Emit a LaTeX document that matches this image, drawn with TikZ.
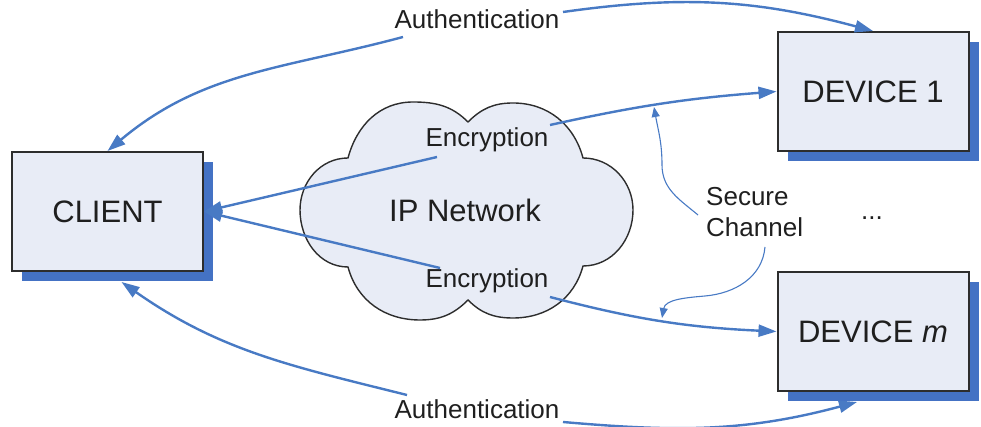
\documentclass[tikz,border=0pt]{standalone}
\usepackage{fontspec}
\setmainfont{Liberation Sans}
\usetikzlibrary{arrows.meta,shadows}
\definecolor{boxfill}{RGB}{232,236,246}
\definecolor{shadowblue}{RGB}{68,114,196}
\definecolor{linkblue}{RGB}{72,122,196}
\definecolor{edgegray}{RGB}{45,45,45}
\newcommand\labelbig{\fontsize{31}{37}\selectfont}
\newcommand\labelsmall{\fontsize{26}{31}\selectfont}
\begin{document}
\begin{tikzpicture}[x=1pt,y=1pt,
  unit/.style={draw=edgegray,line width=2pt,fill=boxfill,
    minimum width=191pt,minimum height=119pt,inner sep=0pt,
    font=\labelbig,text=black!88,
    drop shadow={shadow xshift=10pt,shadow yshift=-10pt,fill=shadowblue,opacity=1}},
  cloudline/.style={draw=edgegray,line width=1.4pt,fill=boxfill},
  tag/.style={inner sep=0pt,font=\labelsmall,text=black!88},
  link/.style={draw=linkblue,line width=2.4pt,-{Triangle[length=18pt,width=12pt]}},
  pointer/.style={draw=linkblue,line width=1.1pt,-{Triangle[length=10pt,width=8pt]}}]
\useasboundingbox (0,0) rectangle (981,427);

% network cloud
\draw[cloudline] (348,269) to[out=75,in=180] (413,325) to[out=0,in=135] (468,305)
  to[out=45,in=180] (513,324) to[out=0,in=105] (583,269)
  to[out=0,in=90] (633,217) to[out=-90,in=0] (583,161)
  to[out=-105,in=0] (513,109) to[out=180,in=-45] (468,127)
  to[out=-135,in=0] (420,107) to[out=180,in=-75] (348,160)
  to[out=180,in=-90] (300,217) to[out=90,in=180] cycle;
\node[inner sep=0pt,font=\labelbig,text=black!88] (ipnet) at (465,217) {IP Network};

% end points
\node[unit] (client) at (107.5,215.5) {CLIENT};
\node[unit] (dev1) at (873,335.5) {DEVICE 1};
\node[unit] (devm) at (873,95.5) {DEVICE \textit{m}};

% labels
\node[tag] (auth1) at (477,408) {Authentication};
\node[tag] (auth2) at (477,18) {Authentication};
\node[tag] (enc1) at (487,287) {Encryption};
\node[tag] (enc2) at (487,146) {Encryption};
\node[tag,align=left,anchor=west] (secure) at (706,214.5) {Secure\\Channel};
\node[tag] (dots) at (872,209) {...};

% free ends of the connectors next to the labels
\coordinate (a1w) at (403,390);
\coordinate (a1e) at (563,415);
\coordinate (a2w) at (407,32);
\coordinate (a2e) at (563,5);
\coordinate (e1w) at (437,270);
\coordinate (e1e) at (550,302);
\coordinate (e2w) at (440,159);
\coordinate (e2e) at (550,130);
\coordinate (s1) at (698,212);
\coordinate (s1t) at (654,320);
\coordinate (s2) at (765,180);
\coordinate (s2t) at (662,109);

% authentication
\draw[link] (a1w) to[out=195,in=40] (client.north);
\draw[link] (a1e) to[out=8,in=165] (dev1.north);
\draw[link] (a2w) to[out=166,in=-35] ([shift={(14pt,-10pt)}]client.south);
\draw[link] (a2e) to[out=-5,in=195] ([shift={(-16pt,-10pt)}]devm.south);

% encrypted links
\draw[link] (e1w) -- (client.east);
\draw[link] (e2w) -- (client.east);
\draw[link] (e1e) to[bend left=4] (dev1.west);
\draw[link] (e2e) to[bend right=6] (devm.west);

% secure channel pointers
\draw[pointer] (s1) to[out=140,in=-90] (662,262) to[out=90,in=-80] (s1t);
\draw[pointer] (s2) to[out=-95,in=5] (705,131) to[out=185,in=80] (s2t);
\end{tikzpicture}
\end{document}
